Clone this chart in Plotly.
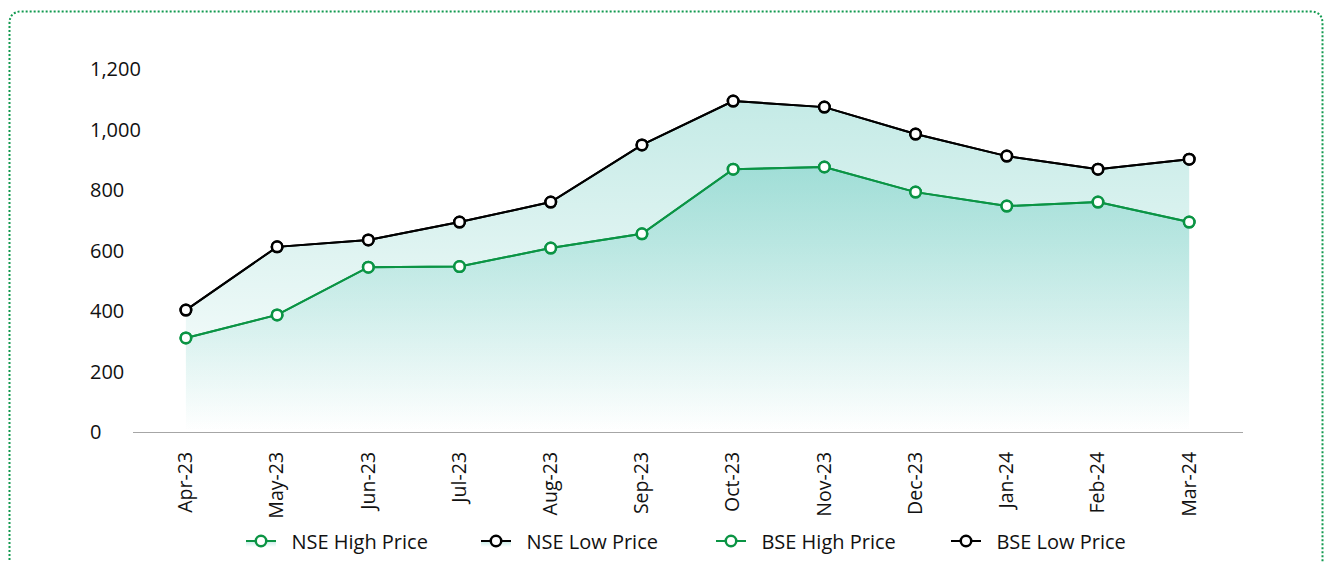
import plotly.graph_objects as go

months = ['Apr-23', 'May-23', 'Jun-23', 'Jul-23', 'Aug-23', 'Sep-23',
          'Oct-23', 'Nov-23', 'Dec-23', 'Jan-24', 'Feb-24', 'Mar-24']
nse_high = [311, 387, 545, 547, 608, 655, 869, 876, 793, 747, 760, 694]
nse_low = [403, 612, 635, 694, 760, 949, 1094, 1074, 985, 912, 869, 902]
bse_high = [311, 387, 545, 547, 608, 655, 869, 876, 793, 747, 760, 694]
bse_low = [403, 612, 635, 694, 760, 949, 1094, 1074, 985, 912, 869, 902]
y_ticks = [0, 200, 400, 600, 800, 1000, 1200]

GREEN = '#0B9444'
BLACK = '#000000'
FONT = 'Open Sans'
TXT = '#111111'

W, H = 1326, 562
ML, MR, MT, MB = 86, 83, 69, 130
PW = W - ML - MR
PH = H - MT - MB


def gradient(top):
    return dict(type='vertical', start=0, stop=top,
                colorscale=[[0, 'rgba(0,166,147,0.0)'],
                            [1, 'rgba(0,166,147,0.23)']])


def trace(name, vals, color, fill):
    kw = dict(
        x=months, y=vals, name='\u00a0\u00a0' + name, mode='lines+markers',
        line=dict(color=color, width=2),
        marker=dict(symbol='circle', size=10.5, color='white',
                    line=dict(color=color, width=2.5)),
    )
    if fill:
        kw['fill'] = 'tozeroy'
        kw['fillgradient'] = gradient(max(vals))
    return go.Scatter(**kw)


fig = go.Figure()
fig.add_trace(trace('NSE High Price', nse_high, GREEN, True))
fig.add_trace(trace('NSE Low Price', nse_low, BLACK, True))
fig.add_trace(trace('BSE High Price', bse_high, GREEN, False))
fig.add_trace(trace('BSE Low Price', bse_low, BLACK, False))


def px(x):
    return (x - ML) / PW


def py(y):
    return (H - MB - y) / PH


# dotted rounded frame (pixel coords)
L, T, R, B, r = 9.5, 11.5, 1322.5, 620, 12
path = (f'M {px(L)},{py(B)} L {px(L)},{py(T + r)} '
        f'Q {px(L)},{py(T)} {px(L + r)},{py(T)} '
        f'L {px(R - r)},{py(T)} '
        f'Q {px(R)},{py(T)} {px(R)},{py(T + r)} '
        f'L {px(R)},{py(B)}')

x0 = (133 - ML) / PW

fig.update_layout(
    width=W, height=H,
    margin=dict(l=ML, r=MR, t=MT, b=MB, autoexpand=False),
    paper_bgcolor='white', plot_bgcolor='white',
    font=dict(family=FONT, color=TXT, size=20),
    xaxis=dict(
        domain=[x0, 1], type='category', range=[-0.58, 11.59],
        showgrid=False, zeroline=False,
        showline=True, linecolor='#A6A6A6', linewidth=1.3,
        tickangle=-90, ticks='outside', ticklen=11,
        tickcolor='rgba(0,0,0,0)', tickfont=dict(size=19.5, color=TXT),
        automargin=False, fixedrange=True,
    ),
    yaxis=dict(
        anchor='free', position=0, range=[0, 1200],
        tickvals=y_ticks, tickformat=',d',
        ticklabelposition='inside', ticklabeloverflow='allow',
        showgrid=False, showline=False, zeroline=False,
        tickfont=dict(size=20, color=TXT),
        automargin=False, fixedrange=True,
    ),
    legend=dict(
        orientation='h',
        x=px(711), xanchor='center',
        y=py(541), yanchor='middle',
        font=dict(size=20, color=TXT),
        entrywidth=190, entrywidthmode='pixels',
        bgcolor='rgba(0,0,0,0)',
    ),
    shapes=[dict(type='path', path=path, xref='paper', yref='paper',
                 line=dict(color='#129A50', width=2, dash='2px,2px'),
                 layer='above')],
)

# let the figure fill the window exactly (no default page margin / scrollbars)
fig.write_html(
    'out.html',
    config={'displayModeBar': False},
    post_script="document.body.style.margin='0px';"
                "document.body.style.overflow='hidden';",
)
